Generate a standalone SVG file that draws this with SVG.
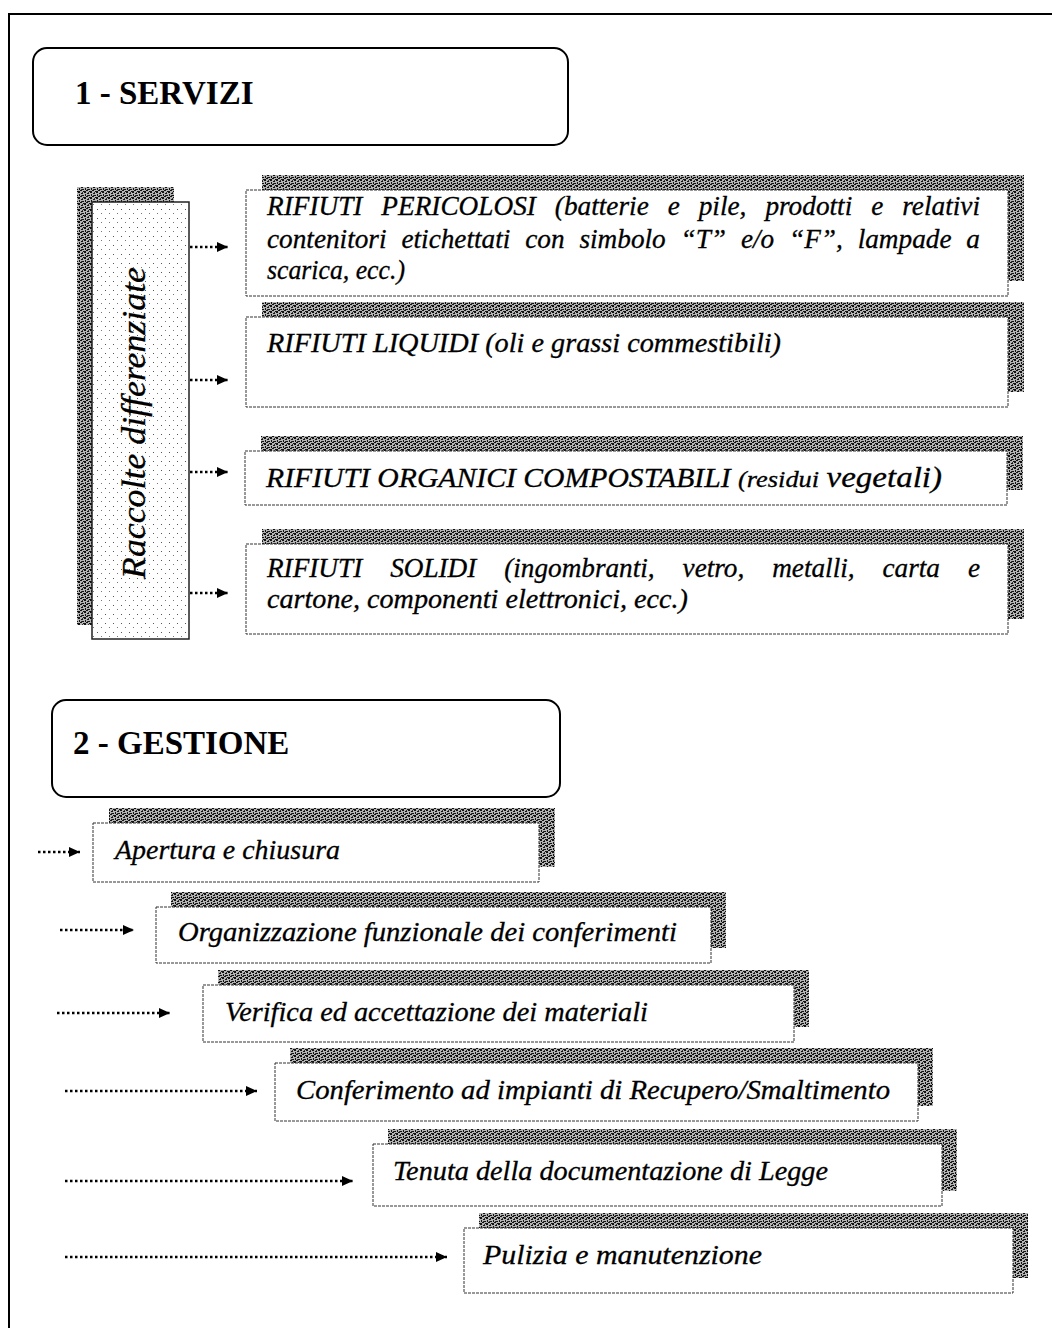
<svg xmlns="http://www.w3.org/2000/svg" width="1052" height="1328" viewBox="0 0 1052 1328">
<defs>
<pattern id="dither" width="6" height="6" patternUnits="userSpaceOnUse">
<rect width="6" height="6" fill="#b4b4b4"/>
<rect x="0" y="0" width="2" height="1" fill="#111"/>
<rect x="3" y="1" width="2" height="1" fill="#111"/>
<rect x="1" y="2" width="1" height="2" fill="#111"/>
<rect x="4" y="3" width="2" height="1" fill="#111"/>
<rect x="2" y="4" width="2" height="1" fill="#111"/>
<rect x="5" y="5" width="1" height="1" fill="#111"/>
<rect x="0" y="5" width="2" height="1" fill="#111"/>
<rect x="4" y="0" width="1" height="1" fill="#333"/>
<rect x="3" y="3" width="1" height="1" fill="#333"/>
</pattern>
<pattern id="stipple" width="8" height="9" patternUnits="userSpaceOnUse">
<rect width="8" height="9" fill="#fff"/>
<rect x="1" y="2" width="1" height="1" fill="#555"/>
<rect x="5" y="6" width="1" height="1" fill="#777"/>
</pattern>
<marker id="ah" viewBox="0 0 11 10" refX="11" refY="5" markerWidth="11" markerHeight="10" markerUnits="userSpaceOnUse" orient="auto">
<path d="M0,0 L11,5 L0,10 z" fill="#000"/>
</marker>
</defs>
<style>
.frame{fill:none;stroke:#000;stroke-width:2}
.title{fill:#fff;stroke:#000;stroke-width:2}
.ttl{font-family:"Liberation Serif",serif;font-weight:bold;font-size:33px;fill:#000}
.sh{fill:url(#dither)}
.bx{fill:#fff;stroke:#333;stroke-width:1;stroke-dasharray:3 1}
.vbx{fill:url(#stipple);stroke:#222;stroke-width:1.5}
.t{font-family:"Liberation Serif",serif;font-style:italic;font-size:27px;fill:#000;stroke:#000;stroke-width:0.3}
.g{font-family:"Liberation Serif",serif;font-style:italic;font-size:27px;fill:#000;stroke:#000;stroke-width:0.3}
.vt{font-family:"Liberation Serif",serif;font-style:italic;font-size:33px;fill:#000;stroke:#000;stroke-width:0.3}
.ar{fill:none;stroke:#000;stroke-width:2.5;stroke-dasharray:2.5 2.5;marker-end:url(#ah)}
</style>
<rect width="1052" height="1328" fill="#fff"/>
<path class="frame" d="M9,1328 V14 H1052"/>

<g id="servizi">
<rect class="title" x="33" y="48" width="535" height="97" rx="14"/>
<text class="ttl" x="75" y="104">1 - SERVIZI</text>
</g>

<g id="raccolte">
<rect class="sh" x="77" y="187" width="97" height="438"/>
<rect class="vbx" x="92" y="202" width="97" height="437"/>
<text class="vt" transform="translate(145,423) rotate(-90)" text-anchor="middle" textLength="312" lengthAdjust="spacingAndGlyphs">Raccolte differenziate</text>
</g>

<g id="pericolosi">
<rect class="sh" x="262" y="175" width="762" height="106"/>
<rect class="bx" x="246" y="190" width="762" height="106"/>
<text class="t" x="267" y="215" word-spacing="12" textLength="713" lengthAdjust="spacingAndGlyphs">RIFIUTI PERICOLOSI (batterie e pile, prodotti e relativi</text>
<text class="t" x="267" y="248" word-spacing="8" textLength="713" lengthAdjust="spacingAndGlyphs">contenitori etichettati con simbolo “T” e/o “F”, lampade a</text>
<text class="t" x="267" y="279" textLength="138" lengthAdjust="spacingAndGlyphs">scarica, ecc.)</text>
</g>

<g id="liquidi">
<rect class="sh" x="262" y="302" width="762" height="90"/>
<rect class="bx" x="246" y="317" width="762" height="90"/>
<text class="t" x="267" y="352" textLength="514" lengthAdjust="spacingAndGlyphs">RIFIUTI LIQUIDI (oli e grassi commestibili)</text>
</g>

<g id="organici">
<rect class="sh" x="261" y="436" width="762" height="54"/>
<rect class="bx" x="245" y="451" width="762" height="54"/>
<text class="t" x="266" y="487" textLength="676" lengthAdjust="spacingAndGlyphs">RIFIUTI ORGANICI COMPOSTABILI <tspan font-size="24">(residui</tspan> <tspan font-size="30">vegetali)</tspan></text>
</g>

<g id="solidi">
<rect class="sh" x="262" y="529" width="762" height="90"/>
<rect class="bx" x="246" y="544" width="762" height="90"/>
<text class="t" x="267" y="577" word-spacing="21" textLength="713" lengthAdjust="spacingAndGlyphs">RIFIUTI SOLIDI (ingombranti, vetro, metalli, carta e</text>
<text class="t" x="267" y="608" textLength="421" lengthAdjust="spacingAndGlyphs">cartone, componenti elettronici, ecc.)</text>
</g>

<g id="gestione">
<rect class="title" x="52" y="700" width="508" height="97" rx="14"/>
<text class="ttl" x="73" y="754">2 - GESTIONE</text>
</g>

<g id="apertura">
<rect class="sh" x="109" y="808" width="446" height="59"/>
<rect class="bx" x="93" y="823" width="446" height="59"/>
<text class="g" x="115" y="859" textLength="225" lengthAdjust="spacingAndGlyphs">Apertura e chiusura</text>
</g>

<g id="organizzazione">
<rect class="sh" x="171" y="892" width="555" height="56"/>
<rect class="bx" x="156" y="907" width="555" height="56"/>
<text class="g" x="178" y="941" textLength="499" lengthAdjust="spacingAndGlyphs">Organizzazione funzionale dei conferimenti</text>
</g>

<g id="verifica">
<rect class="sh" x="218" y="970" width="591" height="57"/>
<rect class="bx" x="203" y="985" width="591" height="57"/>
<text class="g" x="225" y="1021" textLength="423" lengthAdjust="spacingAndGlyphs">Verifica ed accettazione dei materiali</text>
</g>

<g id="conferimento">
<rect class="sh" x="290" y="1048" width="643" height="58"/>
<rect class="bx" x="275" y="1063" width="643" height="58"/>
<text class="g" x="296" y="1099" textLength="594" lengthAdjust="spacingAndGlyphs">Conferimento ad impianti di Recupero/Smaltimento</text>
</g>

<g id="tenuta">
<rect class="sh" x="388" y="1129" width="569" height="62"/>
<rect class="bx" x="373" y="1144" width="569" height="62"/>
<text class="g" x="393" y="1180" textLength="435" lengthAdjust="spacingAndGlyphs">Tenuta della documentazione di Legge</text>
</g>

<g id="pulizia">
<rect class="sh" x="479" y="1213" width="549" height="65"/>
<rect class="bx" x="464" y="1228" width="549" height="65"/>
<text class="g" x="483" y="1264" textLength="279" lengthAdjust="spacingAndGlyphs">Pulizia e manutenzione</text>
</g>

<g id="connectors">
<path class="ar" d="M190,247 H228"/>
<path class="ar" d="M190,380 H228"/>
<path class="ar" d="M190,472 H228"/>
<path class="ar" d="M190,593 H228"/>
<path class="ar" d="M38,852 H80"/>
<path class="ar" d="M60,930 H134"/>
<path class="ar" d="M57,1013 H170"/>
<path class="ar" d="M65,1091 H257"/>
<path class="ar" d="M65,1181 H353"/>
<path class="ar" d="M65,1257 H447"/>
</g>
</svg>
